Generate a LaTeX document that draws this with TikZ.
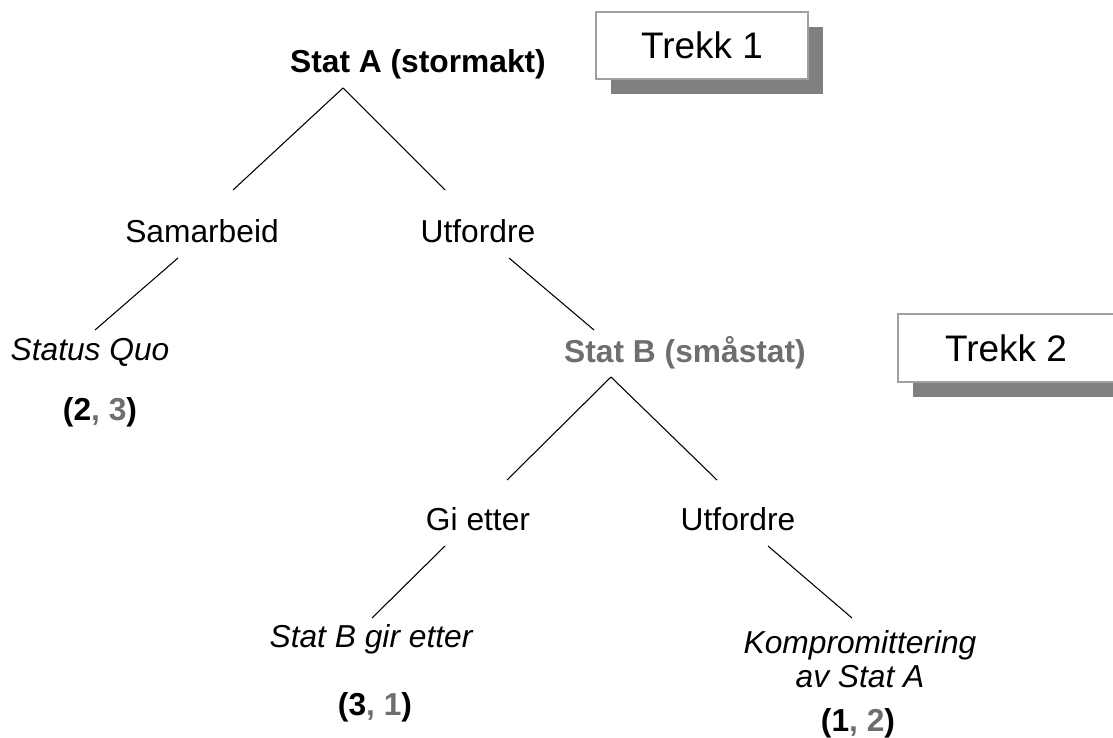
\documentclass[tikz,border=0pt]{standalone}
\usepackage{fontspec}
\setmainfont{Liberation Sans}
\definecolor{txtgray}{HTML}{6E6E6E}
\definecolor{shadowgray}{HTML}{808080}
\definecolor{boxborder}{HTML}{A0A0A0}
\tikzset{
  lbl/.style={inner sep=0pt, font=\fontsize{23.8}{28}\selectfont, align=center},
  ital/.style={lbl, font=\fontsize{23.8}{28}\selectfont\itshape},
  boldlbl/.style={lbl, font=\fontsize{23.8}{28}\selectfont\bfseries},
  edge/.style={draw=black, line width=0.8pt},
  trekk/.style={draw=boxborder, line width=0.8pt, fill=white, inner sep=0pt,
    font=\fontsize{27.7}{32}\selectfont},
  shadowbox/.style={fill=shadowgray, draw=none}
}
\begin{document}
\begin{tikzpicture}[x=0.75pt, y=-0.75pt]
\useasboundingbox (0,0) rectangle (1113,738);
% boxes with shadows
\fill[shadowbox] (611,27) rectangle (823,94);
\node[trekk, minimum width=212*0.75pt, minimum height=67*0.75pt] (t1) at (702,45.5) {Trekk 1};
\fill[shadowbox] (913,329) rectangle (1113,397);
\node[trekk, minimum width=216*0.75pt, minimum height=68*0.75pt] (t2) at (1006,348) {Trekk 2};
% text nodes
\node[boldlbl] (A) at (418,64) {Stat A (stormakt)};
\node[lbl] (sam) at (202,231) {Samarbeid};
\node[lbl] (utf1) at (478,231) {Utfordre};
\node[ital] (sq) at (90,352) {Status Quo};
\node[boldlbl] (p1) at (100,412) {(2\textcolor{txtgray}{, 3})};
\node[boldlbl, text=txtgray] (B) at (685,353) {Stat B (småstat)};
\node[lbl] (gi) at (478,519) {Gi etter};
\node[lbl] (utf2) at (738,519) {Utfordre};
\node[ital] (sbg) at (371,639) {Stat B gir etter};
\node[boldlbl] (p2) at (375,707) {(3\textcolor{txtgray}{, 1})};
\node[ital] (komp) at (860,659) {Kompromittering\\[-2pt]av Stat A};
\node[boldlbl] (p3) at (858,723) {(1\textcolor{txtgray}{, 2})};
% connector endpoints
\coordinate (a0) at (343,88);
\coordinate (a1) at (233,190);
\coordinate (a2) at (445,190);
\coordinate (s0) at (178,258);
\coordinate (s1) at (95,330);
\coordinate (u0) at (509,258);
\coordinate (u1) at (594,330);
\coordinate (b0) at (611,377);
\coordinate (b1) at (507,480);
\coordinate (b2) at (717,480);
\coordinate (g0) at (445,546);
\coordinate (g1) at (372,618);
\coordinate (v0) at (768,546);
\coordinate (v1) at (852,618);
% connectors
\draw[edge] (a0) -- (a1);
\draw[edge] (a0) -- (a2);
\draw[edge] (s0) -- (s1);
\draw[edge] (u0) -- (u1);
\draw[edge] (b0) -- (b1);
\draw[edge] (b0) -- (b2);
\draw[edge] (g0) -- (g1);
\draw[edge] (v0) -- (v1);
\end{tikzpicture}
\end{document}
